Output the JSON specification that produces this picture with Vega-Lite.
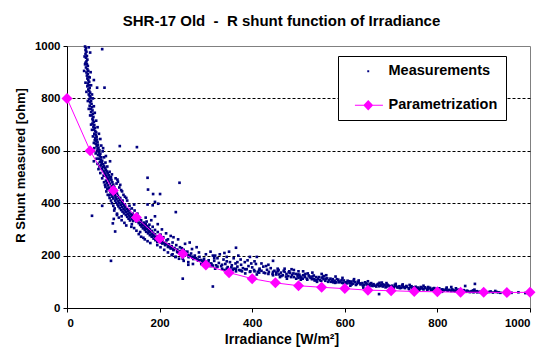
{
"$schema": "https://vega.github.io/schema/vega-lite/v6.json",
"width": 463, "height": 262,
"autosize": {"type": "none"},
"padding": {"left": 67, "top": 46, "right": 20, "bottom": 50},
"background": "white",
"title": {"text": "SHR-17 Old\u00a0 -\u00a0 R shunt function of Irradiance", "font": "Liberation Sans", "fontSize": 15, "fontWeight": "bold", "color": "black", "anchor": "middle", "dx": -17, "offset": 11},
"config": {
  "view": {"stroke": "#808080", "strokeWidth": 1},
  "axis": {"labelFont": "Liberation Sans", "labelFontWeight": "bold", "labelFontSize": 11.5, "labelColor": "black", "titleFont": "Liberation Sans", "titleFontWeight": "bold", "titleColor": "black", "domainColor": "black", "tickColor": "black", "tickSize": 4}
},
"datasets": {
"meas": [
{"x":39,"y":998},{"x":41,"y":992},{"x":40,"y":984},{"x":42,"y":978},{"x":40,"y":970},{"x":43,"y":962},{"x":41,"y":955},{"x":44,"y":948},{"x":42,"y":941},{"x":40,"y":936},{"x":43,"y":930},{"x":45,"y":924},{"x":41,"y":918},{"x":44,"y":911},{"x":46,"y":905},{"x":42,"y":899},{"x":45,"y":893},{"x":43,"y":887},{"x":47,"y":882},{"x":44,"y":876},{"x":46,"y":869},{"x":48,"y":863},{"x":45,"y":857},{"x":47,"y":850},{"x":44,"y":846},{"x":49,"y":840},{"x":46,"y":834},{"x":48,"y":828},{"x":50,"y":822},{"x":47,"y":815},{"x":49,"y":809},{"x":51,"y":803},{"x":48,"y":797},{"x":52,"y":791},{"x":50,"y":785},{"x":53,"y":779},{"x":49,"y":772},{"x":54,"y":766},{"x":51,"y":760},{"x":55,"y":754},{"x":52,"y":748},{"x":56,"y":741},{"x":53,"y":735},{"x":57,"y":729},{"x":55,"y":722},{"x":76,"y":988},{"x":65,"y":841},{"x":81,"y":841},{"x":58,"y":870},
{"x":38,"y":960},{"x":39,"y":930},{"x":50,"y":975},{"x":47,"y":995},{"x":37,"y":905},{"x":51,"y":900},{"x":49,"y":880},{"x":40,"y":860},{"x":52,"y":850},{"x":42,"y":825},{"x":54,"y":815},{"x":45,"y":790},{"x":56,"y":800},{"x":47,"y":760},{"x":58,"y":770},{"x":50,"y":735},{"x":60,"y":745},
{"x":56,"y":716},{"x":58,"y":710},{"x":55,"y":704},{"x":59,"y":698},{"x":57,"y":692},{"x":60,"y":687},{"x":58,"y":681},{"x":61,"y":675},{"x":63,"y":670},{"x":59,"y":665},{"x":62,"y":659},{"x":64,"y":654},{"x":61,"y":648},{"x":65,"y":643},{"x":63,"y":637},{"x":66,"y":632},{"x":62,"y":627},{"x":67,"y":622},{"x":64,"y":617},{"x":68,"y":612},{"x":66,"y":607},{"x":70,"y":602},{"x":65,"y":598},{"x":69,"y":593},{"x":72,"y":589},{"x":67,"y":584},{"x":71,"y":579},{"x":74,"y":575},{"x":69,"y":570},{"x":73,"y":566},{"x":76,"y":562},{"x":71,"y":557},{"x":75,"y":553},{"x":78,"y":549},{"x":73,"y":545},{"x":80,"y":542},{"x":77,"y":538},{"x":82,"y":535},{"x":75,"y":531},{"x":84,"y":528},{"x":79,"y":524},{"x":86,"y":521},{"x":81,"y":517},{"x":88,"y":514},{"x":83,"y":510},{"x":90,"y":507},{"x":85,"y":503},{"x":92,"y":500},{"x":87,"y":497},{"x":94,"y":494},{"x":60,"y":640},{"x":78,"y":610},{"x":84,"y":580},{"x":58,"y":560},{"x":70,"y":540},{"x":93,"y":560},{"x":76,"y":495},
{"x":52,"y":700},{"x":63,"y":715},{"x":54,"y":680},{"x":66,"y":690},{"x":56,"y":655},{"x":69,"y":665},{"x":58,"y":630},{"x":72,"y":645},{"x":59,"y":610},{"x":74,"y":620},{"x":62,"y":590},{"x":77,"y":598},{"x":64,"y":570},{"x":80,"y":575},{"x":66,"y":550},{"x":83,"y":555},{"x":68,"y":530},{"x":87,"y":540},{"x":72,"y":515},{"x":92,"y":520},{"x":79,"y":505},{"x":97,"y":510},
{"x":89,"y":492},{"x":96,"y":489},{"x":84,"y":486},{"x":91,"y":483},{"x":98,"y":480},{"x":86,"y":477},{"x":93,"y":474},{"x":100,"y":471},{"x":88,"y":468},{"x":95,"y":465},{"x":102,"y":462},{"x":90,"y":459},{"x":97,"y":456},{"x":104,"y":453},{"x":92,"y":450},{"x":99,"y":447},{"x":106,"y":444},{"x":94,"y":441},{"x":101,"y":438},{"x":108,"y":436},{"x":96,"y":433},{"x":103,"y":430},{"x":110,"y":428},{"x":98,"y":425},{"x":105,"y":422},{"x":112,"y":420},{"x":87,"y":455},{"x":115,"y":470},{"x":109,"y":490},{"x":83,"y":462},{"x":119,"y":445},{"x":95,"y":500},{"x":107,"y":475},{"x":91,"y":430},
{"x":80,"y":480},{"x":105,"y":495},{"x":82,"y":470},{"x":110,"y":482},{"x":85,"y":445},{"x":113,"y":460},{"x":88,"y":432},{"x":117,"y":450},{"x":92,"y":420},{"x":122,"y":432},{"x":95,"y":410},{"x":125,"y":425},
{"x":100,"y":418},{"x":107,"y":415},{"x":114,"y":413},{"x":104,"y":410},{"x":111,"y":407},{"x":118,"y":405},{"x":106,"y":402},{"x":113,"y":400},{"x":120,"y":398},{"x":109,"y":395},{"x":116,"y":393},{"x":123,"y":391},{"x":111,"y":388},{"x":119,"y":386},{"x":126,"y":384},{"x":114,"y":381},{"x":122,"y":379},{"x":129,"y":377},{"x":117,"y":374},{"x":125,"y":372},{"x":132,"y":370},{"x":120,"y":368},{"x":128,"y":366},{"x":135,"y":364},{"x":123,"y":361},{"x":131,"y":359},{"x":138,"y":357},{"x":127,"y":355},{"x":134,"y":353},{"x":141,"y":351},{"x":130,"y":348},{"x":137,"y":346},{"x":144,"y":344},{"x":133,"y":341},{"x":140,"y":339},{"x":147,"y":337},{"x":136,"y":334},{"x":143,"y":332},{"x":150,"y":330},{"x":103,"y":380},{"x":145,"y":395},{"x":152,"y":360},{"x":118,"y":350},{"x":128,"y":420},{"x":100,"y":390},{"x":139,"y":310},{"x":95,"y":180},{"x":54,"y":352},{"x":76,"y":390},{"x":99,"y":323},{"x":104,"y":292},{"x":101,"y":340},{"x":108,"y":355},
{"x":97,"y":400},{"x":130,"y":410},{"x":102,"y":372},{"x":135,"y":390},{"x":108,"y":360},{"x":140,"y":380},{"x":112,"y":345},{"x":146,"y":372},{"x":118,"y":335},{"x":152,"y":350},{"x":124,"y":325},{"x":156,"y":340},{"x":128,"y":315},{"x":160,"y":335},
{"x":105,"y":435},{"x":115,"y":420},{"x":120,"y":410},{"x":125,"y":395},{"x":135,"y":375},{"x":142,"y":360},{"x":148,"y":350},{"x":155,"y":335},{"x":162,"y":318},{"x":168,"y":306},{"x":177,"y":292},{"x":185,"y":279},{"x":192,"y":265},{"x":198,"y":255},{"x":205,"y":252},{"x":212,"y":242},{"x":222,"y":232},{"x":230,"y":224},{"x":240,"y":212},{"x":248,"y":205},
{"x":160,"y":328},{"x":167,"y":326},{"x":155,"y":324},{"x":163,"y":322},{"x":170,"y":320},{"x":158,"y":317},{"x":166,"y":315},{"x":173,"y":313},{"x":161,"y":311},{"x":169,"y":309},{"x":176,"y":307},{"x":164,"y":304},{"x":172,"y":302},{"x":179,"y":300},{"x":168,"y":298},{"x":176,"y":296},{"x":183,"y":294},{"x":171,"y":291},{"x":179,"y":289},{"x":186,"y":287},{"x":175,"y":285},{"x":183,"y":283},{"x":190,"y":281},{"x":179,"y":278},{"x":187,"y":276},{"x":194,"y":274},{"x":183,"y":272},{"x":191,"y":270},{"x":198,"y":268},{"x":187,"y":265},{"x":195,"y":263},{"x":202,"y":261},{"x":191,"y":259},{"x":199,"y":257},{"x":206,"y":255},{"x":195,"y":252},{"x":203,"y":250},{"x":210,"y":248},{"x":170,"y":345},{"x":182,"y":335},{"x":196,"y":320},{"x":205,"y":300},{"x":214,"y":285},{"x":165,"y":268},{"x":158,"y":290},{"x":190,"y":350},{"x":218,"y":262},{"x":224,"y":275},{"x":174,"y":395},{"x":175,"y":452},{"x":186,"y":435},{"x":185,"y":392},{"x":235,"y":366},{"x":243,"y":478},{"x":201,"y":435},{"x":190,"y":405},{"x":197,"y":398},{"x":114,"y":618},{"x":151,"y":614},{"x":174,"y":497},
{"x":140,"y":320},{"x":172,"y":330},{"x":145,"y":305},{"x":178,"y":318},{"x":150,"y":295},{"x":185,"y":310},{"x":155,"y":282},{"x":190,"y":298},{"x":160,"y":272},{"x":196,"y":290},{"x":168,"y":262},{"x":202,"y":280},{"x":174,"y":255},{"x":208,"y":270},{"x":180,"y":248},{"x":215,"y":258},
{"x":206,"y":246},{"x":214,"y":245},{"x":220,"y":243},{"x":212,"y":240},{"x":219,"y":238},{"x":226,"y":236},{"x":218,"y":233},{"x":225,"y":231},{"x":232,"y":229},{"x":224,"y":227},{"x":231,"y":225},{"x":238,"y":223},{"x":230,"y":221},{"x":238,"y":219},{"x":245,"y":217},{"x":238,"y":214},{"x":246,"y":212},{"x":253,"y":210},{"x":246,"y":207},{"x":254,"y":205},{"x":261,"y":203},{"x":254,"y":200},{"x":262,"y":198},{"x":270,"y":196},{"x":263,"y":194},{"x":271,"y":192},{"x":279,"y":190},{"x":273,"y":187},{"x":282,"y":185},{"x":290,"y":183},{"x":283,"y":181},{"x":292,"y":179},{"x":300,"y":177},{"x":294,"y":174},{"x":303,"y":172},{"x":311,"y":170},{"x":240,"y":262},{"x":255,"y":245},{"x":270,"y":225},{"x":285,"y":212},{"x":265,"y":250},{"x":230,"y":270},{"x":300,"y":205},{"x":250,"y":188},{"x":235,"y":195},{"x":310,"y":215},{"x":280,"y":232},{"x":262,"y":165},{"x":290,"y":168},{"x":320,"y":200},{"x":248,"y":228},{"x":228,"y":205},{"x":250,"y":112},{"x":315,"y":82},
{"x":195,"y":240},{"x":228,"y":250},{"x":202,"y":232},{"x":236,"y":240},{"x":210,"y":222},{"x":244,"y":232},{"x":218,"y":212},{"x":252,"y":222},{"x":226,"y":202},{"x":260,"y":215},{"x":234,"y":195},{"x":268,"y":208},{"x":242,"y":188},{"x":276,"y":200},{"x":252,"y":180},{"x":286,"y":195},{"x":262,"y":175},{"x":296,"y":188},{"x":272,"y":168},{"x":306,"y":182},
{"x":255,"y":215},{"x":265,"y":200},{"x":275,"y":190},{"x":285,"y":182},{"x":295,"y":178},{"x":305,"y":168},{"x":315,"y":162},{"x":325,"y":158},{"x":335,"y":165},{"x":345,"y":150},{"x":355,"y":155},{"x":365,"y":150},{"x":375,"y":143},{"x":385,"y":148},{"x":395,"y":138},{"x":405,"y":140},{"x":415,"y":145},{"x":425,"y":135},{"x":435,"y":130},{"x":445,"y":138},
{"x":305,"y":175},{"x":312,"y":168},{"x":318,"y":180},{"x":322,"y":163},{"x":328,"y":172},{"x":333,"y":160},{"x":338,"y":185},{"x":342,"y":168},{"x":347,"y":156},{"x":352,"y":175},{"x":356,"y":163},{"x":360,"y":150},{"x":364,"y":170},{"x":368,"y":158},{"x":372,"y":145},{"x":376,"y":165},{"x":380,"y":152},{"x":384,"y":175},{"x":388,"y":148},{"x":392,"y":160},{"x":396,"y":140},{"x":400,"y":155},{"x":404,"y":145},{"x":408,"y":168},{"x":412,"y":138},{"x":416,"y":150},{"x":420,"y":142},{"x":424,"y":158},{"x":428,"y":133},{"x":432,"y":146},{"x":436,"y":138},{"x":440,"y":152},{"x":444,"y":130},{"x":448,"y":142},{"x":452,"y":135},{"x":315,"y":200},{"x":330,"y":205},{"x":345,"y":195},{"x":360,"y":190},{"x":375,"y":185},{"x":390,"y":182},{"x":405,"y":178},{"x":350,"y":215},{"x":370,"y":200},{"x":420,"y":170},{"x":325,"y":190},{"x":340,"y":210},{"x":395,"y":195},{"x":435,"y":165},{"x":320,"y":150},{"x":340,"y":145},{"x":365,"y":140},{"x":385,"y":132},{"x":410,"y":128},
{"x":310,"y":160},{"x":318,"y":190},{"x":335,"y":150},{"x":345,"y":178},{"x":358,"y":145},{"x":368,"y":175},{"x":378,"y":140},{"x":398,"y":170},{"x":415,"y":135},{"x":430,"y":160},{"x":445,"y":125},{"x":455,"y":150},{"x":365,"y":230},{"x":410,"y":195},{"x":445,"y":180},
{"x":455,"y":140},{"x":458,"y":128},{"x":462,"y":135},{"x":466,"y":125},{"x":470,"y":138},{"x":474,"y":130},{"x":478,"y":122},{"x":482,"y":134},{"x":486,"y":126},{"x":490,"y":118},{"x":494,"y":130},{"x":498,"y":122},{"x":502,"y":127},{"x":506,"y":116},{"x":510,"y":125},{"x":514,"y":118},{"x":518,"y":112},{"x":522,"y":124},{"x":526,"y":115},{"x":530,"y":120},{"x":534,"y":110},{"x":538,"y":118},{"x":542,"y":112},{"x":546,"y":106},{"x":550,"y":116},{"x":554,"y":110},{"x":558,"y":104},{"x":562,"y":113},{"x":566,"y":106},{"x":570,"y":100},{"x":574,"y":110},{"x":578,"y":104},{"x":582,"y":98},{"x":586,"y":108},{"x":590,"y":101},{"x":594,"y":96},{"x":598,"y":105},{"x":470,"y":150},{"x":490,"y":145},{"x":510,"y":140},{"x":530,"y":135},{"x":550,"y":130},{"x":475,"y":112},{"x":505,"y":108},{"x":560,"y":125},{"x":580,"y":120},{"x":520,"y":132},{"x":540,"y":100},{"x":500,"y":140},{"x":485,"y":148},
{"x":460,"y":118},{"x":480,"y":140},{"x":500,"y":115},{"x":515,"y":130},{"x":535,"y":105},{"x":555,"y":122},{"x":575,"y":98},{"x":595,"y":115},
{"x":452,"y":128},{"x":457,"y":145},{"x":463,"y":122},{"x":468,"y":142},{"x":473,"y":120},{"x":479,"y":136},{"x":484,"y":118},{"x":489,"y":132},{"x":495,"y":112},{"x":499,"y":128},{"x":504,"y":120},{"x":509,"y":112},{"x":513,"y":126},{"x":519,"y":108},{"x":524,"y":120},{"x":529,"y":110},{"x":533,"y":124},{"x":539,"y":106},{"x":544,"y":118},{"x":549,"y":104},{"x":553,"y":120},{"x":559,"y":112},{"x":564,"y":100},{"x":569,"y":112},{"x":573,"y":104},{"x":579,"y":96},{"x":583,"y":110},{"x":588,"y":98},{"x":593,"y":106},{"x":597,"y":95},
{"x":602,"y":98},{"x":606,"y":104},{"x":610,"y":95},{"x":614,"y":101},{"x":618,"y":93},{"x":622,"y":99},{"x":626,"y":92},{"x":630,"y":97},{"x":634,"y":90},{"x":638,"y":95},{"x":642,"y":88},{"x":646,"y":94},{"x":650,"y":87},{"x":654,"y":92},{"x":658,"y":86},{"x":662,"y":91},{"x":666,"y":85},{"x":670,"y":89},{"x":674,"y":83},{"x":678,"y":88},{"x":682,"y":82},{"x":686,"y":87},{"x":690,"y":81},{"x":694,"y":86},{"x":698,"y":80},{"x":702,"y":85},{"x":706,"y":79},{"x":710,"y":84},{"x":714,"y":78},{"x":718,"y":83},{"x":722,"y":77},{"x":726,"y":82},{"x":730,"y":76},{"x":734,"y":81},{"x":738,"y":75},{"x":742,"y":80},{"x":746,"y":74},{"x":750,"y":79},{"x":754,"y":73},{"x":758,"y":78},{"x":762,"y":72},{"x":766,"y":77},{"x":770,"y":71},{"x":774,"y":76},{"x":778,"y":70},{"x":782,"y":75},{"x":786,"y":69},{"x":790,"y":74},{"x":794,"y":68},{"x":798,"y":73},{"x":620,"y":110},{"x":650,"y":102},{"x":680,"y":97},{"x":710,"y":92},{"x":740,"y":88},{"x":770,"y":85},{"x":640,"y":78},{"x":700,"y":72},{"x":760,"y":66},{"x":674,"y":53},{"x":612,"y":85},{"x":690,"y":95},
{"x":615,"y":90},{"x":630,"y":105},{"x":660,"y":84},{"x":675,"y":96},{"x":705,"y":77},{"x":725,"y":90},{"x":750,"y":72},{"x":780,"y":80},
{"x":604,"y":94},{"x":609,"y":102},{"x":613,"y":96},{"x":619,"y":104},{"x":624,"y":88},{"x":628,"y":100},{"x":633,"y":94},{"x":639,"y":86},{"x":644,"y":98},{"x":648,"y":90},{"x":653,"y":84},{"x":657,"y":95},{"x":663,"y":88},{"x":668,"y":82},{"x":672,"y":92},{"x":677,"y":85},{"x":683,"y":90},{"x":688,"y":79},{"x":692,"y":89},{"x":697,"y":83},{"x":703,"y":80},{"x":708,"y":88},{"x":713,"y":81},{"x":719,"y":76},{"x":724,"y":86},{"x":728,"y":79},{"x":733,"y":84},{"x":739,"y":72},{"x":744,"y":83},{"x":748,"y":77},{"x":753,"y":81},{"x":759,"y":74},{"x":764,"y":80},{"x":768,"y":74},{"x":773,"y":79},{"x":779,"y":72},{"x":784,"y":77},{"x":789,"y":70},{"x":793,"y":76},{"x":797,"y":70},
{"x":802,"y":72},{"x":806,"y":68},{"x":810,"y":71},{"x":814,"y":67},{"x":818,"y":70},{"x":822,"y":66},{"x":826,"y":69},{"x":830,"y":65},{"x":834,"y":68},{"x":838,"y":64},{"x":842,"y":67},{"x":846,"y":63},{"x":850,"y":66},{"x":854,"y":62},{"x":858,"y":65},{"x":862,"y":62},{"x":866,"y":64},{"x":870,"y":61},{"x":874,"y":64},{"x":878,"y":60},{"x":882,"y":63},{"x":886,"y":60},{"x":890,"y":62},{"x":895,"y":59},{"x":900,"y":62},{"x":906,"y":59},{"x":912,"y":61},{"x":920,"y":59},{"x":928,"y":61},{"x":936,"y":58},{"x":945,"y":60},{"x":960,"y":58},{"x":975,"y":60},{"x":990,"y":57},{"x":998,"y":59},{"x":820,"y":78},{"x":840,"y":75},{"x":880,"y":70},{"x":810,"y":62},{"x":850,"y":58},{"x":900,"y":68},{"x":860,"y":84},{"x":881,"y":92},{"x":830,"y":80},{"x":925,"y":65},
{"x":804,"y":75},{"x":812,"y":70},{"x":819,"y":73},{"x":824,"y":68},{"x":832,"y":71},{"x":836,"y":66},{"x":845,"y":70},{"x":852,"y":64},{"x":857,"y":68},{"x":864,"y":66},{"x":872,"y":62},{"x":877,"y":67},{"x":885,"y":64},{"x":892,"y":60},{"x":898,"y":64},{"x":904,"y":61},{"x":915,"y":63},{"x":932,"y":60}
],
"param": [
{"x":0,"y":800,"s":"Parametrization"},{"x":50,"y":600,"s":"Parametrization"},{"x":100,"y":448,"s":"Parametrization"},{"x":150,"y":345,"s":"Parametrization"},{"x":200,"y":265,"s":"Parametrization"},{"x":250,"y":207,"s":"Parametrization"},{"x":300,"y":164,"s":"Parametrization"},{"x":350,"y":135,"s":"Parametrization"},{"x":400,"y":112,"s":"Parametrization"},{"x":450,"y":96,"s":"Parametrization"},{"x":500,"y":85,"s":"Parametrization"},{"x":550,"y":79,"s":"Parametrization"},{"x":600,"y":74,"s":"Parametrization"},{"x":650,"y":68,"s":"Parametrization"},{"x":700,"y":66,"s":"Parametrization"},{"x":750,"y":63,"s":"Parametrization"},{"x":800,"y":62,"s":"Parametrization"},{"x":850,"y":60,"s":"Parametrization"},{"x":900,"y":60,"s":"Parametrization"},{"x":950,"y":59,"s":"Parametrization"},{"x":1000,"y":60,"s":"Parametrization"}
]
},
"encoding": {
  "x": {"field": "x", "type": "quantitative", "scale": {"domain": [0, 1000], "nice": false},
        "axis": {"title": "Irradiance [W/m²]", "values": [0, 200, 400, 600, 800, 1000], "format": "d", "grid": false, "labelPadding": 5, "titleFontSize": 14, "titleX": 214.5, "titleY": 31, "titleBaseline": "middle"}},
  "y": {"field": "y", "type": "quantitative", "scale": {"domain": [0, 1000], "nice": false},
        "axis": {"title": "R Shunt measured [ohm]", "values": [0, 200, 400, 600, 800, 1000], "format": "d", "grid": true, "gridColor": "black", "gridDash": [3, 2], "gridOpacity": {"condition": {"test": "datum.value == 0 || datum.value == 1000", "value": 0}, "value": 1}, "labelPadding": 3, "titleFontSize": 13, "titleX": -47, "titleY": 119, "titleBaseline": "middle"}}
},
"layer": [
  {"data": {"name": "meas"}, "mark": {"type": "point", "shape": "square", "filled": true, "color": "#000080", "size": 7, "opacity": 1}},
  {"data": {"name": "param"}, "mark": {"type": "line", "color": "#FF00FF", "strokeWidth": 1}},
  {"data": {"name": "param"}, "mark": {"type": "point", "shape": "diamond", "filled": true, "color": "#FF00FF", "size": 121, "opacity": 1}},
  {"data": {"name": "param"}, "mark": {"type": "point", "filled": true, "opacity": 0},
   "encoding": {
     "color": {"field": "s", "type": "nominal", "scale": {"domain": ["Measurements", "Parametrization"], "range": ["#000080", "#FF00FF"]},
       "legend": {"orient": "none", "legendX": 271, "legendY": 10, "title": null, "padding": 8, "symbolSize": 196, "labelOffset": 28, "rowPadding": 19, "labelFont": "Liberation Sans", "labelFontSize": 14.5, "labelFontWeight": "bold", "labelColor": "black", "strokeColor": "black", "fillColor": "white", "symbolOpacity": 1, "symbolStrokeWidth": 0,
         "encode": {"symbols": {"update": {"opacity": {"value": 1}, "fillOpacity": {"value": 1}, "fill": {"scale": "color", "field": "value"}}}}}},
     "shape": {"field": "s", "type": "nominal", "scale": {"domain": ["Measurements", "Parametrization"], "range": ["M2,-0.14L2.28,-0.14L2.28,0.14L2,0.14Z", "M0.24,-0.07L4.24,-0.07L4.24,0.07L0.24,0.07Z M1.43,0L2.14,-0.76L2.85,0L2.14,0.76Z"]}}
   }}
]
}
